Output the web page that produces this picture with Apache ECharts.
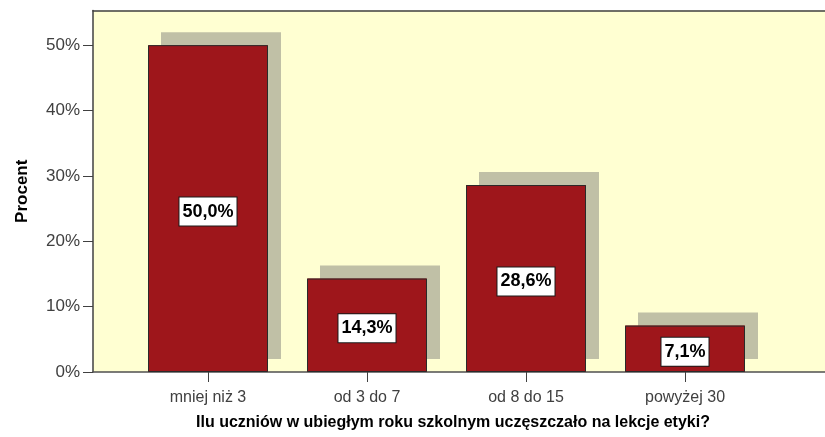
<!DOCTYPE html>
<html>
<head>
<meta charset="utf-8">
<script src="https://cdn.jsdelivr.net/npm/echarts@6/dist/echarts.min.js"></script>
<style>
  html, body { margin: 0; padding: 0; background: #fff; }
  #chart { width: 825px; height: 437px; }
</style>
</head>
<body>
<div id="chart"></div>
<script>
// dane
var categories = ['mniej niż 3', 'od 3 do 7', 'od 8 do 15', 'powyżej 30'];
var percents = [50.0, 14.3, 28.6, 7.1];
var yTicks = [0, 10, 20, 30, 40, 50];

var yMax = 55.3;
var font = 'Arial, "Liberation Sans", sans-serif';
var barColor = '#9E161B';

var chart = echarts.init(document.getElementById('chart'));

var option = {
  backgroundColor: '#ffffff',
  animation: false,
  grid: [
    // tło wykresu (żółte) na całą szerokość
    {
      left: 93, top: 10.5, right: 0, bottom: 65,
      show: true,
      backgroundColor: '#FFFFD2',
      borderWidth: 0
    },
    // słupki
    {
      left: 128.5, top: 10.5, right: 60.5, bottom: 65
    }
  ],
  xAxis: [
    {
      gridIndex: 0,
      type: 'value',
      min: 0, max: 1,
      position: 'bottom',
      axisLine: { show: true, lineStyle: { color: '#505050', width: 1.5 } },
      axisTick: { show: false },
      axisLabel: { show: false },
      splitLine: { show: false },
      name: 'Ilu uczniów w ubiegłym roku szkolnym uczęszczało na lekcje etyki?',
      nameLocation: 'middle',
      nameGap: 43,
      nameTextStyle: {
        fontFamily: font, fontSize: 16, fontWeight: 'bold', color: '#000',
        padding: [0, 12, 0, 0]
      }
    },
    {
      gridIndex: 0,
      type: 'value',
      min: 0, max: 1,
      position: 'top',
      axisLine: { show: true, lineStyle: { color: '#404040', width: 1.5 } },
      axisTick: { show: false },
      axisLabel: { show: false },
      splitLine: { show: false }
    },
    {
      gridIndex: 1,
      type: 'category',
      data: categories,
      axisLine: { show: false },
      axisTick: { show: true, alignWithLabel: true, length: 10, lineStyle: { color: '#404040' } },
      axisLabel: {
        fontFamily: font, fontSize: 16, color: '#404040', margin: 18
      },
      splitLine: { show: false }
    }
  ],
  yAxis: [
    {
      gridIndex: 0,
      type: 'value',
      min: 0, max: yMax,
      axisLine: { show: true, lineStyle: { color: '#404040', width: 1.5 } },
      axisTick: { show: true, length: 10, customValues: yTicks, lineStyle: { color: '#404040' } },
      axisLabel: {
        fontFamily: font, fontSize: 17, color: '#404040', margin: 13,
        customValues: yTicks,
        formatter: '{value}%'
      },
      splitLine: { show: false },
      name: 'Procent',
      nameLocation: 'middle',
      nameGap: 62,
      nameTextStyle: {
        fontFamily: font, fontSize: 17, fontWeight: 'bold', color: '#000'
      }
    },
    {
      gridIndex: 1,
      type: 'value',
      min: 0, max: yMax,
      show: false
    }
  ],
  series: [
    // cień słupków (przesunięty w prawo i w górę)
    {
      type: 'bar',
      xAxisIndex: 2,
      yAxisIndex: 1,
      data: percents,
      barWidth: 120,
      silent: true,
      itemStyle: {
        color: barColor,
        shadowColor: '#C0C0A6',
        shadowBlur: 0,
        shadowOffsetX: 13,
        shadowOffsetY: -13
      }
    },
    {
      type: 'bar',
      xAxisIndex: 2,
      yAxisIndex: 1,
      data: percents,
      barWidth: 120,
      barGap: '-100%',
      itemStyle: {
        color: barColor,
        borderColor: '#2a2a2a',
        borderWidth: 1
      },
      label: {
        show: true,
        position: 'inside',
        offset: [0, 3],
        formatter: function (p) { return p.value.toFixed(1).replace('.', ',') + '%'; },
        fontFamily: font,
        fontSize: 18,
        fontWeight: 'bold',
        color: '#000',
        backgroundColor: '#ffffff',
        borderColor: '#1a1a1a',
        borderWidth: 1,
        lineHeight: 18,
        padding: [5, 3, 5, 3]
      }
    }
  ]
};

chart.setOption(option);
</script>
</body>
</html>
